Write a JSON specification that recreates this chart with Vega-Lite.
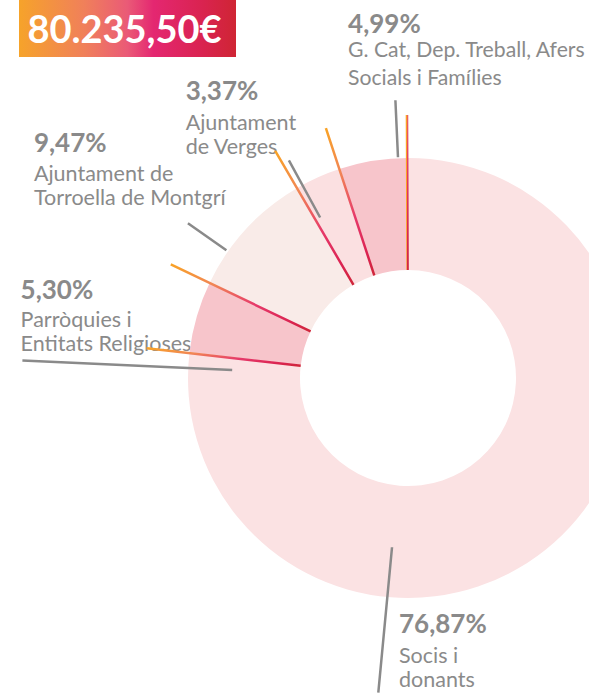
{
  "$schema": "https://vega.github.io/schema/vega-lite/v6.json",
  "padding": {"left": 19, "top": 0, "right": 0, "bottom": 0},
  "background": "white",
  "config": {"view": {"stroke": null}, "font": "Lato"},
  "spacing": 6,
  "bounds": "flush",
  "vconcat": [
    {
      "width": 217,
      "height": 57,
      "view": {
        "stroke": null,
        "fill": {
          "gradient": "linear", "x1": 0, "y1": 0, "x2": 1, "y2": 0,
          "stops": [
            {"offset": 0, "color": "#f6a32a"},
            {"offset": 0.3, "color": "#f0805a"},
            {"offset": 0.5, "color": "#ea5a77"},
            {"offset": 0.62, "color": "#e42771"},
            {"offset": 0.85, "color": "#d9234f"},
            {"offset": 1, "color": "#cf2534"}
          ]
        }
      },
      "data": {"values": [{"total": "80.235,50€"}]},
      "mark": {"type": "text", "font": "Lato", "fontWeight": "bold", "fontSize": 38, "color": "white", "align": "center", "baseline": "alphabetic", "dx": -3, "dy": 14.5},
      "encoding": {"text": {"field": "total"}}
    },
    {
      "spacing": 0,
      "bounds": "flush",
      "hconcat": [
        {
          "width": 208,
          "height": 630,
          "data": {"values": [{"t": ""}]},
          "mark": {"type": "text"},
          "encoding": {"text": {"field": "t"}}
        },
        {
          "width": 362,
          "height": 630,
          "data": {
            "values": [
              {"k": 1, "name": "Socis i donants", "pct": "76,87%", "label": "Socis i\ndonants", "value": 76.87},
              {"k": 2, "name": "Parròquies i Entitats Religioses", "pct": "5,30%", "label": "Parròquies i\nEntitats Religioses", "value": 5.30},
              {"k": 3, "name": "Ajuntament de Torroella de Montgrí", "pct": "9,47%", "label": "Ajuntament de\nTorroella de Montgrí", "value": 9.47},
              {"k": 4, "name": "Ajuntament de Verges", "pct": "3,37%", "label": "Ajuntament\nde Verges", "value": 3.37},
              {"k": 5, "name": "G. Cat, Dep. Treball, Afers Socials i Famílies", "pct": "4,99%", "label": "G. Cat, Dep. Treball, Afers\nSocials i Famílies", "value": 4.99}
            ]
          },
          "transform": [
            {"stack": "value", "groupby": [], "sort": [{"field": "k"}], "as": ["v0", "v1"]}
          ],
          "layer": [
            {"transform": [{"filter": "datum.k == 5"}],
             "mark": {"type": "text", "radius": 230, "align": "left", "baseline": "alphabetic", "dx": 11, "dy": -126, "font": "Lato", "fontWeight": "bold", "fontSize": 26, "color": "#8a8a8a"},
             "encoding": {"theta": {"field": "v0", "type": "quantitative", "stack": null, "scale": {"domain": [0, 100]}}, "text": {"field": "pct"}}},
            {"transform": [{"filter": "datum.k == 5"}],
             "mark": {"type": "text", "radius": 230, "align": "left", "baseline": "alphabetic", "dx": 11, "dy": -102, "font": "Lato", "fontSize": 21.2, "lineBreak": "\n", "lineHeight": 28, "color": "#8a8a8a"},
             "encoding": {"theta": {"field": "v0", "type": "quantitative", "stack": null, "scale": {"domain": [0, 100]}}, "text": {"field": "label"}}},
            {"transform": [{"filter": "datum.k == 4"}],
             "mark": {"type": "text", "radius": 230, "align": "left", "baseline": "alphabetic", "dx": -107, "dy": -79, "font": "Lato", "fontWeight": "bold", "fontSize": 26, "color": "#8a8a8a"},
             "encoding": {"theta": {"field": "v0", "type": "quantitative", "stack": null, "scale": {"domain": [0, 100]}}, "text": {"field": "pct"}}},
            {"transform": [{"filter": "datum.k == 4"}],
             "mark": {"type": "text", "radius": 230, "align": "left", "baseline": "alphabetic", "dx": -107, "dy": -49, "font": "Lato", "fontSize": 21.5, "lineBreak": "\n", "lineHeight": 24, "color": "#8a8a8a"},
             "encoding": {"theta": {"field": "v0", "type": "quantitative", "stack": null, "scale": {"domain": [0, 100]}}, "text": {"field": "label"}}},
            {"transform": [{"filter": "datum.k == 3"}],
             "mark": {"type": "text", "radius": 230, "align": "left", "baseline": "alphabetic", "dx": -167, "dy": -126, "font": "Lato", "fontWeight": "bold", "fontSize": 26, "color": "#8a8a8a"},
             "encoding": {"theta": {"field": "v0", "type": "quantitative", "stack": null, "scale": {"domain": [0, 100]}}, "text": {"field": "pct"}}},
            {"transform": [{"filter": "datum.k == 3"}],
             "mark": {"type": "text", "radius": 230, "align": "left", "baseline": "alphabetic", "dx": -167, "dy": -97, "font": "Lato", "fontSize": 21.5, "lineBreak": "\n", "lineHeight": 24, "color": "#8a8a8a"},
             "encoding": {"theta": {"field": "v0", "type": "quantitative", "stack": null, "scale": {"domain": [0, 100]}}, "text": {"field": "label"}}},
            {"transform": [{"filter": "datum.k == 2"}],
             "mark": {"type": "text", "radius": 230, "align": "left", "baseline": "alphabetic", "dx": -159, "dy": -52, "font": "Lato", "fontWeight": "bold", "fontSize": 26, "color": "#8a8a8a"},
             "encoding": {"theta": {"field": "v0", "type": "quantitative", "stack": null, "scale": {"domain": [0, 100]}}, "text": {"field": "pct"}}},
            {"transform": [{"filter": "datum.k == 2"}],
             "mark": {"type": "text", "radius": 230, "align": "left", "baseline": "alphabetic", "dx": -159, "dy": -24, "font": "Lato", "fontSize": 21.5, "lineBreak": "\n", "lineHeight": 24, "color": "#8a8a8a"},
             "encoding": {"theta": {"field": "v0", "type": "quantitative", "stack": null, "scale": {"domain": [0, 100]}}, "text": {"field": "label"}}},
            {"transform": [{"filter": "datum.k == 1"}],
             "mark": {"type": "text", "radius": 230, "align": "left", "baseline": "alphabetic", "dx": -9, "dy": 485, "font": "Lato", "fontWeight": "bold", "fontSize": 26, "color": "#8a8a8a"},
             "encoding": {"theta": {"field": "v0", "type": "quantitative", "stack": null, "scale": {"domain": [0, 100]}}, "text": {"field": "pct"}}},
            {"transform": [{"filter": "datum.k == 1"}],
             "mark": {"type": "text", "radius": 230, "align": "left", "baseline": "alphabetic", "dx": -9, "dy": 515, "font": "Lato", "fontSize": 21.5, "lineBreak": "\n", "lineHeight": 24, "color": "#8a8a8a"},
             "encoding": {"theta": {"field": "v0", "type": "quantitative", "stack": null, "scale": {"domain": [0, 100]}}, "text": {"field": "label"}}},
            {
              "mark": {"type": "arc", "outerRadius": 220, "innerRadius": 108, "stroke": null},
              "encoding": {
                "theta": {"field": "v0", "type": "quantitative", "stack": null, "scale": {"domain": [0, 100]}},
                "theta2": {"field": "v1"},
                "color": {"field": "name", "type": "nominal", "legend": null,
                  "scale": {"domain": ["Socis i donants", "Parròquies i Entitats Religioses", "Ajuntament de Torroella de Montgrí", "Ajuntament de Verges", "G. Cat, Dep. Treball, Afers Socials i Famílies"],
                            "range": ["#fbe2e3", "#f7c5cb", "#f9ebe8", "#fbe0e1", "#f7c5cb"]}}
              }
            },
            {
              "mark": {"type": "arc", "outerRadius": 263, "innerRadius": 108, "thetaOffset": -0.004, "theta2Offset": -0.004, "filled": false, "strokeWidth": 2.5, "strokeJoin": "bevel",
                "stroke": {"gradient": "linear", "x1": 0, "y1": 0, "x2": 1, "y2": 1,
                  "stops": [
                    {"offset": 0, "color": "#f9a326"},
                    {"offset": 0.3, "color": "#f18655"},
                    {"offset": 0.6, "color": "#e63a6a"},
                    {"offset": 0.85, "color": "#db2452"},
                    {"offset": 1, "color": "#cf263a"}
                  ]}},
              "encoding": {
                "theta": {"field": "v0", "type": "quantitative", "stack": null, "scale": {"domain": [0, 100]}},
                "theta2": {"field": "v0"}
              }
            },
            {"transform": [{"filter": "datum.k == 5"}],
             "mark": {"type": "arc", "outerRadius": 278, "innerRadius": 221, "thetaOffset": 0.2682, "theta2Offset": 0.2682, "filled": false, "stroke": "#8a8a8a", "strokeWidth": 2.5, "strokeJoin": "bevel"},
             "encoding": {"theta": {"field": "v0", "type": "quantitative", "stack": null, "scale": {"domain": [0, 100]}}, "theta2": {"field": "v0"}}},
            {"transform": [{"filter": "datum.k == 4"}],
             "mark": {"type": "arc", "outerRadius": 248, "innerRadius": 183, "thetaOffset": 0.0244, "theta2Offset": 0.0244, "filled": false, "stroke": "#8a8a8a", "strokeWidth": 2.5, "strokeJoin": "bevel"},
             "encoding": {"theta": {"field": "v0", "type": "quantitative", "stack": null, "scale": {"domain": [0, 100]}}, "theta2": {"field": "v0"}}},
            {"transform": [{"filter": "datum.k == 3"}],
             "mark": {"type": "arc", "outerRadius": 269, "innerRadius": 222, "thetaOffset": 0.1621, "theta2Offset": 0.1621, "filled": false, "stroke": "#8a8a8a", "strokeWidth": 2.5, "strokeJoin": "bevel"},
             "encoding": {"theta": {"field": "v0", "type": "quantitative", "stack": null, "scale": {"domain": [0, 100]}}, "theta2": {"field": "v0"}}},
            {"transform": [{"filter": "datum.k == 2"}],
             "mark": {"type": "arc", "outerRadius": 386, "innerRadius": 176, "thetaOffset": -0.0721, "theta2Offset": -0.0721, "filled": false, "stroke": "#8a8a8a", "strokeWidth": 2.5, "strokeJoin": "bevel"},
             "encoding": {"theta": {"field": "v0", "type": "quantitative", "stack": null, "scale": {"domain": [0, 100]}}, "theta2": {"field": "v0"}}},
            {"transform": [{"filter": "datum.k == 1"}],
             "mark": {"type": "arc", "outerRadius": 316, "innerRadius": 170, "thetaOffset": 3.2357, "theta2Offset": 3.2357, "filled": false, "stroke": "#8a8a8a", "strokeWidth": 2.5, "strokeJoin": "bevel"},
             "encoding": {"theta": {"field": "v0", "type": "quantitative", "stack": null, "scale": {"domain": [0, 100]}}, "theta2": {"field": "v0"}}}
          ]
        }
      ]
    }
  ]
}
